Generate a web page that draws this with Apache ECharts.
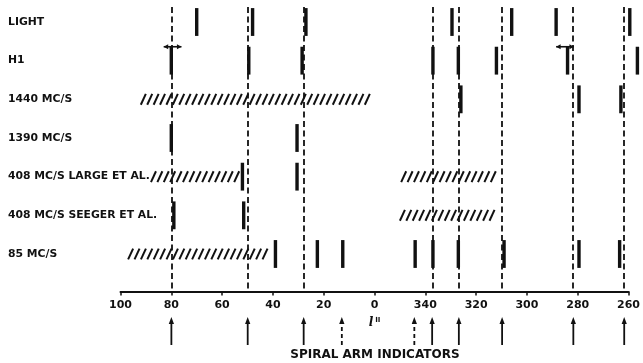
<!DOCTYPE html>
<html>
<head>
<meta charset="utf-8">
<title>Spiral arm indicators</title>
<script src="https://cdn.jsdelivr.net/npm/echarts@6/dist/echarts.min.js"></script>
<style>
  html, body { margin: 0; padding: 0; background: #fff; }
  #chart { width: 643px; height: 363px; }
</style>
</head>
<body>
<div id="chart"></div>
<script>
// row names, top to bottom
const rows = ['LIGHT', 'H1', '1440 MC/S', '1390 MC/S', '408 MC/S LARGE ET AL.', '408 MC/S SEEGER ET AL.', '85 MC/S'];

// galactic longitude (l II, degrees) of the tangential features, one list per row
const lightBars = [70, 48, 27, 329.5, 306, 288.5, 259.5];
const hiBars = [80, 49.5, 28.5, 337, 327, 312, 284, 256.5];
const mc1440Bars = [326, 279.5, 263];
const mc1390Bars = [80, 30.5];
const large408Bars = [52, 30.5];
const seeger408Bars = [79, 51.5];
const mc85Bars = [39, 22.5, 12.5, 344, 337, 327, 309, 279.5, 263.5];

// hatched ranges [from, to]
const mc1440Bands = [[92, 0.5]];
const large408Bands = [[88, 53], [349.5, 310.5]];
const seeger408Bands = [[350, 311]];
const mc85Bands = [[97, 42]];

// uncertainty arrows on the H1 row [from, to]
const hiRanges = [[83, 76], [288.5, 281.5]];

// dashed arm lines and the arrows under the axis
const armLines = [80, 50, 28, 337, 327, 310, 282, 262];
const solidArrows = [80, 50, 28, 337.5, 327, 310, 282, 262];
const dashedArrows = [13, 344.5];

const tickLabels = [100, 80, 60, 40, 20, 0, 340, 320, 300, 280, 260];

const ink = '#111';
const font = 'DejaVu Sans';

// 0..100 stays, 260..360 goes to -100..0 so the axis runs 100 -> 0 -> 260
const toAxis = l => (l > 180 ? l - 360 : l);

const barSets = [lightBars, hiBars, mc1440Bars, mc1390Bars, large408Bars, seeger408Bars, mc85Bars];
const bandSets = [[], [], mc1440Bands, [], large408Bands, seeger408Bands, mc85Bands];

const barData = [];
barSets.forEach((list, row) => list.forEach(l => barData.push([toAxis(l), row])));

const bandData = [];
bandSets.forEach((list, row) => list.forEach(([a, b]) => bandData.push([toAxis(a), toAxis(b), row])));

const rangeData = hiRanges.map(([a, b]) => [toAxis(a), toAxis(b), 1]);

const arrowData = solidArrows.map(l => [toAxis(l), 0]).concat(dashedArrows.map(l => [toAxis(l), 1]));

function renderBar(params, api) {
  const x = api.value(0), row = api.value(1);
  const p1 = api.coord([x, row - 0.36]);
  const p2 = api.coord([x, row + 0.36]);
  return {
    type: 'line',
    shape: { x1: p1[0], y1: p1[1], x2: p2[0], y2: p2[1] },
    style: { stroke: ink, lineWidth: 3.4 }
  };
}

function renderBand(params, api) {
  const a = api.coord([api.value(0), api.value(2)]);
  const b = api.coord([api.value(1), api.value(2)]);
  const h = api.size([0, 0.14])[1];
  const left = Math.min(a[0], b[0]), right = Math.max(a[0], b[0]);
  const children = [];
  for (let x = left; x + 5 <= right + 0.5; x += 6.4) {
    children.push({
      type: 'line',
      shape: { x1: x, y1: a[1] + h, x2: x + 5, y2: a[1] - h },
      style: { stroke: ink, lineWidth: 2 }
    });
  }
  return { type: 'group', children };
}

function renderRange(params, api) {
  const row = api.value(2) - 0.36;
  const a = api.coord([api.value(0), row]);
  const b = api.coord([api.value(1), row]);
  const l = Math.min(a[0], b[0]), r = Math.max(a[0], b[0]), y = a[1];
  return {
    type: 'group',
    children: [
      { type: 'line', shape: { x1: l, y1: y, x2: r, y2: y }, style: { stroke: ink, lineWidth: 1.6 } },
      { type: 'polygon', shape: { points: [[l, y], [l + 4.5, y - 2.6], [l + 4.5, y + 2.6]] }, style: { fill: ink } },
      { type: 'polygon', shape: { points: [[r, y], [r - 4.5, y - 2.6], [r - 4.5, y + 2.6]] }, style: { fill: ink } }
    ]
  };
}

function renderArrow(params, api) {
  const base = api.coord([api.value(0), 0]);
  const tip = api.coord([api.value(0), 1]);
  const dashed = api.value(1) === 1;
  return {
    type: 'group',
    children: [
      {
        type: 'line',
        shape: { x1: base[0], y1: base[1], x2: tip[0], y2: tip[1] + 5 },
        style: { stroke: ink, lineWidth: 1.8, lineDash: dashed ? [4, 3] : null }
      },
      {
        type: 'polygon',
        shape: { points: [[tip[0], tip[1]], [tip[0] - 2.6, tip[1] + 7], [tip[0] + 2.6, tip[1] + 7]] },
        style: { fill: ink }
      }
    ]
  };
}

const chart = echarts.init(document.getElementById('chart'), null, { renderer: 'canvas' });

const option = {
  animation: false,
  backgroundColor: '#fff',
  textStyle: { fontFamily: font, color: ink },
  grid: [
    { left: 120.5, right: 13.7, top: 7, bottom: 71.5 },
    { left: 120.5, right: 13.7, top: 317, bottom: 18 }
  ],
  xAxis: [
    {
      type: 'value',
      gridIndex: 0,
      position: 'bottom',
      min: -100,
      max: 100,
      inverse: true,
      splitLine: { show: false },
      axisLine: { onZero: false, lineStyle: { color: ink, width: 2 } },
      axisTick: {
        length: 4,
        lineStyle: { color: ink, width: 1.5 },
        customValues: tickLabels.map(toAxis)
      },
      axisLabel: {
        margin: 8,
        color: ink,
        fontFamily: font,
        fontWeight: 'bold',
        fontSize: 11,
        customValues: tickLabels.map(toAxis),
        formatter: v => String(v < 0 ? v + 360 : v)
      },
      name: '{l|l}{s|II}',
      nameLocation: 'middle',
      nameGap: 25,
      nameTextStyle: {
        rich: {
          l: { fontFamily: 'DejaVu Serif', fontStyle: 'italic', fontWeight: 'bold', fontSize: 12, color: ink },
          s: { fontFamily: font, fontWeight: 'bold', fontSize: 7, color: ink, verticalAlign: 'top', padding: [0, 0, 6, 2] }
        }
      }
    },
    {
      type: 'value',
      gridIndex: 1,
      min: -100,
      max: 100,
      inverse: true,
      splitLine: { show: false },
      axisLine: { show: false },
      axisTick: { show: false },
      axisLabel: { show: false },
      name: 'SPIRAL ARM INDICATORS',
      nameLocation: 'middle',
      nameGap: 4,
      nameTextStyle: { fontFamily: font, fontWeight: 'bold', fontSize: 12, color: ink }
    }
  ],
  yAxis: [
    {
      type: 'value',
      gridIndex: 0,
      min: -0.388,
      max: 6.97,
      inverse: true,
      splitLine: { show: false },
      axisLine: { show: false },
      axisTick: { show: false },
      axisLabel: {
        align: 'left',
        margin: 112.5,
        color: ink,
        fontFamily: font,
        fontWeight: 'bold',
        fontSize: 10.8,
        customValues: rows.map((r, i) => i),
        formatter: v => rows[Math.round(v)]
      }
    },
    { type: 'value', gridIndex: 1, min: 0, max: 1, show: false }
  ],
  series: [
    {
      type: 'custom',
      name: 'bands',
      xAxisIndex: 0,
      yAxisIndex: 0,
      clip: false,
      renderItem: renderBand,
      encode: { x: [0, 1], y: 2 },
      data: bandData
    },
    {
      type: 'custom',
      name: 'bars',
      xAxisIndex: 0,
      yAxisIndex: 0,
      clip: false,
      renderItem: renderBar,
      encode: { x: 0, y: 1 },
      data: barData,
      markLine: {
        silent: true,
        symbol: 'none',
        label: { show: false },
        lineStyle: { type: [6, 3.5], color: ink, width: 1.8 },
        data: armLines.map(l => ({ xAxis: toAxis(l) }))
      }
    },
    {
      type: 'custom',
      name: 'ranges',
      xAxisIndex: 0,
      yAxisIndex: 0,
      clip: false,
      renderItem: renderRange,
      encode: { x: [0, 1], y: 2 },
      data: rangeData
    },
    {
      type: 'custom',
      name: 'arrows',
      xAxisIndex: 1,
      yAxisIndex: 1,
      clip: false,
      renderItem: renderArrow,
      encode: { x: 0 },
      data: arrowData
    }
  ]
};

chart.setOption(option);
</script>
</body>
</html>
